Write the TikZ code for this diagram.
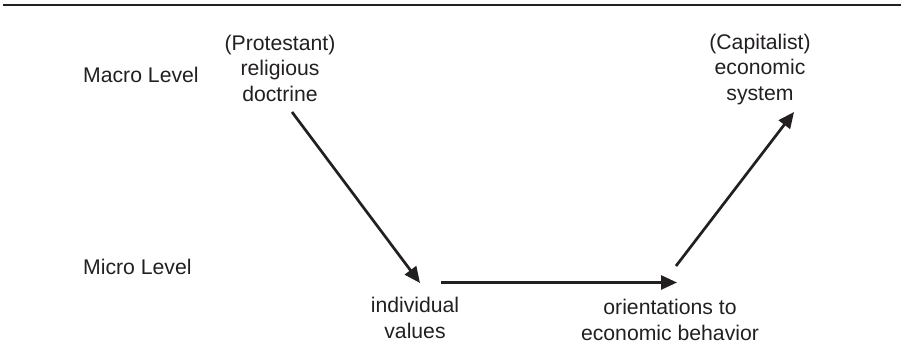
\documentclass[tikz,border=0pt]{standalone}
\usepackage{fontspec}
\setmainfont{Liberation Sans}
\usetikzlibrary{arrows.meta,calc}
\definecolor{ink}{HTML}{231F20}
\tikzset{
  lbl/.style={inner sep=0pt, align=center, text=ink, font=\fontsize{21.2}{25.5}\selectfont},
  lvl/.style={inner sep=0pt, text=ink, font=\fontsize{21.2}{25.5}\selectfont, anchor=base west},
  arr/.style={draw=ink, line width=2.7pt, -{Triangle[length=16pt,width=14pt]}}
}
\begin{document}
\begin{tikzpicture}[x=1pt,y=-1pt]
\useasboundingbox (0,0) rectangle (901,353);
\draw[ink, line width=2.6pt] (3,5) -- (901,5);
\node[lvl] (macro) at (83,82) {Macro Level};
\node[lvl] (micro) at (83,274) {Micro Level};
\node[lbl] (prot) at (280,68) {(Protestant)\\religious\\doctrine};
\node[lbl] (cap) at (760,69.5) {(Capitalist)\\economic\\system};
\node[lbl] (indiv) at (415,318) {individual\\values};
\node[lbl] (orient) at (670,320) {orientations to\\economic behavior};
\draw[arr] ($(prot.center)+(12,44)$) -- ($(indiv.center)+(5,-35)$);
\draw[arr] ($(indiv.center)+(26,-35.5)$) -- ($(orient.center)+(7,-37.5)$);
\draw[arr] ($(orient.center)+(6,-54)$) -- ($(cap.center)+(34,42.5)$);
\end{tikzpicture}
\end{document}
